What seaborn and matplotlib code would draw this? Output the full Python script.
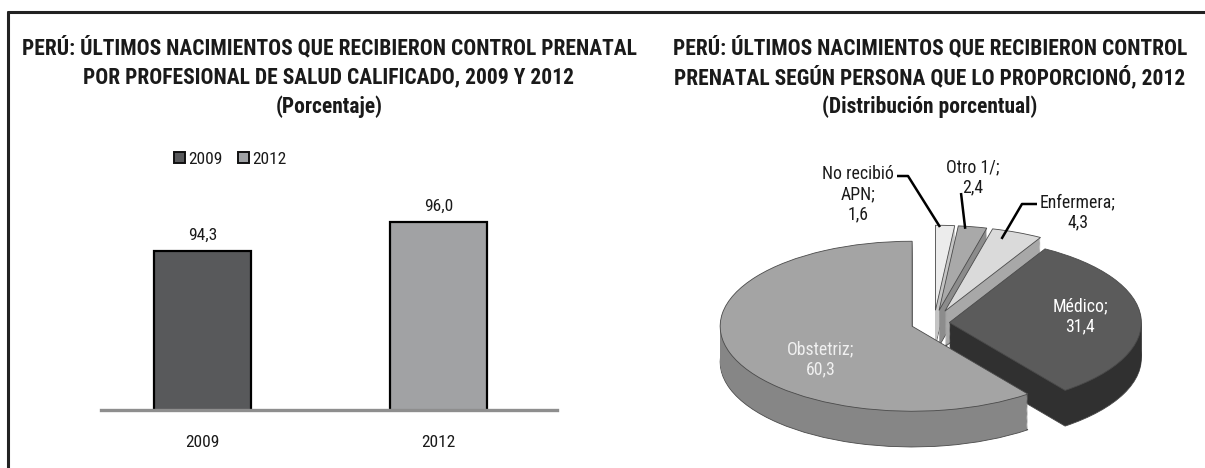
import numpy as np
import matplotlib
matplotlib.use("Agg")
import matplotlib.pyplot as plt
import seaborn as sns
from matplotlib import font_manager
from matplotlib.lines import Line2D
from matplotlib.patches import Patch

# ---- data -------------------------------------------------------------
years = ["2009", "2012"]
pct_calificado = [94.3, 96.0]

pie_labels = ["No recibió\nAPN", "Otro 1/", "Enfermera", "Médico", "Obstetriz"]
pie_values = [1.6, 2.4, 4.3, 31.4, 60.3]

bar_colors = ["#58595b", "#a0a2a5"]
pie_top = ["#ececec", "#a9a9a9", "#dadada", "#5b5b5b", "#a4a4a4"]
pie_side = ["#c4c4c4", "#8c8c8c", "#a8a8a8", "#303030", "#868686"]
pie_explode = [0.15, 0.15, 0.15, 0.08, 0.12]

left_title = ["PERÚ: ÚLTIMOS NACIMIENTOS QUE RECIBIERON CONTROL PRENATAL",
              "POR PROFESIONAL DE SALUD CALIFICADO, 2009 Y 2012",
              "(Porcentaje)"]
right_title = ["PERÚ: ÚLTIMOS NACIMIENTOS QUE RECIBIERON CONTROL",
               "PRENATAL SEGÚN PERSONA QUE LO PROPORCIONÓ, 2012",
               "(Distribución porcentual)"]

W, H = 1205, 468
TXT = "#1a1a1a"


def fmt(v):
    return f"{v:.1f}".replace(".", ",")


def px_box(x0, y0, x1, y1):
    # pixel box (top-left origin) -> figure fraction rect
    return [x0 / W, (H - y1) / H, (x1 - x0) / W, (y1 - y0) / H]


# pick a narrow font if one is installed
sns.set_style("white")
names = sorted({f.name for f in font_manager.fontManager.ttflist})
narrow = [n for n in names if "Narrow" in n or "Condensed" in n]
pref = ["Liberation Sans Narrow", "Arial Narrow", "Roboto Condensed",
        "Noto Sans Condensed", "Open Sans Condensed", "DejaVu Sans Condensed"]
family = next((n for n in pref if n in names), None) or \
    (narrow[0] if narrow else "Liberation Sans")
plt.rcParams["font.family"] = [family, "DejaVu Sans"]

fig = plt.figure(figsize=(W / 100, H / 100), dpi=100)
renderer = fig.canvas.get_renderer()


def fit_size(text, width_px, weight="normal", ref=12.0):
    t = fig.text(0, 0, text, fontsize=ref, fontweight=weight)
    w = t.get_window_extent(renderer=renderer).width
    t.remove()
    return ref * width_px / w


title_fs = fit_size(left_title[0], 614, "bold")
small_fs = fit_size("No recibió", 72)
num_fs = fit_size("2009", 34)

# outer frame (top and left edges visible)
fig.add_artist(Line2D([8 / W, 8 / W], [0, 1 - 12 / H], color="#222222", lw=2.2))
fig.add_artist(Line2D([8 / W, 1], [1 - 12 / H, 1 - 12 / H], color="#222222", lw=2.2))

for i, (lt, rt) in enumerate(zip(left_title, right_title)):
    y = 1 - (48 + 29.5 * i) / H
    fig.text(329 / W, y, lt, ha="center", va="center", fontsize=title_fs,
             fontweight="bold", color=TXT)
    fig.text(930 / W, y, rt, ha="center", va="center", fontsize=title_fs,
             fontweight="bold", color=TXT)

# ---- left: bar chart --------------------------------------------------
ax = fig.add_axes(px_box(101, 154, 557, 410))
sns.barplot(x=years, y=pct_calificado, hue=years, palette=bar_colors,
            width=0.41, edgecolor="black", linewidth=1.6, legend=False, ax=ax)
ax.set_ylim(85, 100)
ax.set_xlim(-0.43, 1.50)
for c in ax.containers:
    ax.bar_label(c, labels=[fmt(b.get_height()) for b in c], padding=6,
                 fontsize=num_fs, color=TXT)
for s in ["top", "left", "right"]:
    ax.spines[s].set_visible(False)
ax.spines["bottom"].set_color("#8e8e8e")
ax.spines["bottom"].set_linewidth(2.4)
ax.set_yticks([])
ax.set_xlabel("")
ax.set_ylabel("")
ax.tick_params(axis="x", length=0, pad=18, labelsize=num_fs, labelcolor=TXT)

handles = [Patch(facecolor=col, edgecolor="#111111", linewidth=1.4)
           for col in bar_colors]
ax.legend(handles, years, loc="center left", bbox_to_anchor=(0.16, 0.98),
          ncol=2, frameon=False, fontsize=num_fs, handlelength=0.65,
          handleheight=0.65, handletextpad=0.15, columnspacing=0.9,
          borderpad=0, borderaxespad=0, labelcolor=TXT)

# ---- right: 3D-style exploded pie --------------------------------------
cx, cy, sx, sy = 934, 323, 192, 85          # pixel center, px per unit
bx0, by0, bx1, by1 = 690, 140, 1195, 466
pax = fig.add_axes(px_box(bx0, by0, bx1, by1))
depth, layers = 0.42, 32
for k, d in enumerate(np.linspace(depth, 0, layers)):
    top = k == layers - 1
    edge = top or k == 0
    pax.pie(pie_values, explode=pie_explode, startangle=90, counterclock=False,
            colors=pie_top if top else pie_side, center=(0, -d),
            wedgeprops=dict(linewidth=0.6 if edge else 0, edgecolor="#4a4a4a"))
pax.set_aspect("auto")
pax.set_xlim((bx0 - cx) / sx, (bx1 - cx) / sx)
pax.set_ylim((cy - by1) / sy, (cy - by0) / sy)
pax.axis("off")

# wedge geometry from the data (clockwise from 12 o'clock)
bounds = 90 - 360 * np.concatenate([[0], np.cumsum(pie_values)]) / sum(pie_values)
mids = np.radians((bounds[:-1] + bounds[1:]) / 2)


def anchor(i, r=0.96, shift_deg=0.0):
    a = mids[i] + np.radians(shift_deg)
    ex = pie_explode[i]
    return (r * np.cos(a) + ex * np.cos(mids[i]),
            r * np.sin(a) + ex * np.sin(mids[i]))


def d(px, py):
    return ((px - cx) / sx, (cy - py) / sy)


label_pos = [d(858, 194), d(973, 177), d(1078, 212), d(1080, 316), d(821, 359)]
label_col = [TXT, TXT, TXT, "white", "#f0f0f0"]
for i, (lab, val) in enumerate(zip(pie_labels, pie_values)):
    pax.text(*label_pos[i], f"{lab};\n{fmt(val)}", ha="center", va="center",
             fontsize=small_fs, color=label_col[i], linespacing=1.15, zorder=5)

# leader lines for the small slices
leaders = [
    [d(897, 176), d(908, 176), anchor(0, 0.98, 1.5)],
    [d(961, 193), anchor(1, 0.97, 2.0)],
    [d(1037, 204), d(1022, 204), anchor(2, 0.9, 3.0)],
]
for pts in leaders:
    xs, ys = zip(*pts)
    pax.plot(xs, ys, color="black", lw=1.8, solid_capstyle="butt", zorder=6,
             clip_on=False)

fig.savefig("out.png", dpi=100, facecolor="white")
